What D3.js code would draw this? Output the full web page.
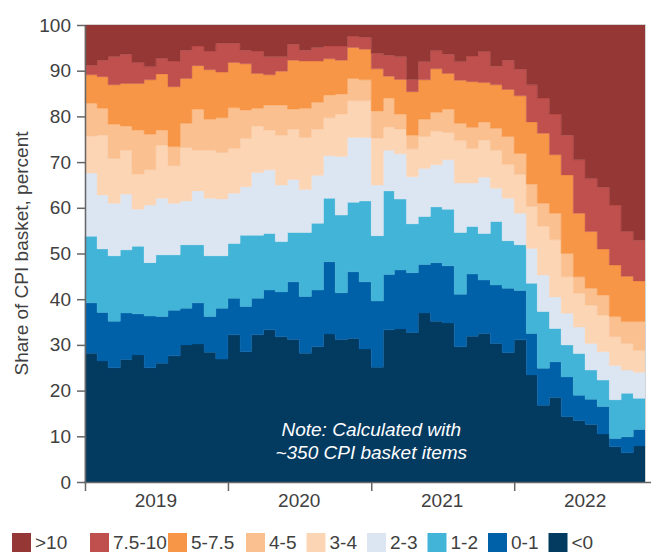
<!DOCTYPE html>
<html>
<head>
<meta charset="utf-8">
<script src="https://cdn.jsdelivr.net/npm/d3@7"></script>
<style>
  body { margin: 0; background: #fff; }
  svg { display: block; font-family: "Liberation Sans", Arial, sans-serif; }
</style>
</head>
<body>
<svg id="chart" width="654" height="554"></svg>
<script>
// buckets of annual inflation, bottom of the stack first
const buckets = ["<0", "0-1", "1-2", "2-3", "3-4", "4-5", "5-7.5", "7.5-10", ">10"];
const colors = ["#033a60", "#0061a8", "#42b4d7", "#dce6f2", "#fcd5b5", "#fac090", "#f79646", "#c0504d", "#953735"];
const years = ["2019", "2020", "2021", "2022"];

// months Jan 2019 .. Nov 2022
const months = d3.timeMonth.range(new Date(2019, 0, 1), new Date(2022, 11, 1));

// cumulative share (top edge of each band)
const topLt0 = [28.2,26.5,25.0,26.8,27.8,25.0,26.0,27.6,30.0,30.2, 28.4,26.9,32.2,28.5,32.2,33.3,31.8,31.2,28.2,29.6,
  32.4,31.2,31.4,29.1,25.1,33.3,33.5,32.7,37.0,35.2, 34.8,29.6,31.9,32.5,30.3,28.3,31.1,23.4,16.8,18.5, 14.3,13.4,12.6,10.5,7.7,6.4,7.9];
const top0to1 = [39.2,37.1,35.2,37.0,36.8,36.3,36.2,37.6,38.0,39.2, 36.2,38.0,40.2,38.4,40.2,42.0,41.6,43.8,40.6,42.0,
  48.2,41.4,46.0,43.8,39.6,45.4,46.4,45.8,47.6,48.0, 47.3,41.1,45.5,44.2,43.1,42.4,41.9,32.5,24.9,26.3, 23.0,19.0,18.1,16.5,9.5,9.9,11.5];
const top1to2 = [53.8,51.0,49.5,50.8,51.6,48.0,49.7,49.7,51.9,51.9, 49.5,49.5,52.2,54.0,54.0,54.4,52.6,54.6,54.6,56.6,
  62.1,58.4,61.2,61.5,53.9,63.7,61.9,56.5,58.1,60.2, 59.7,54.6,55.9,54.4,57.0,52.8,51.9,43.5,37.3,33.6, 30.0,28.1,24.5,22.3,18.0,19.4,18.3];
const top2to3 = [67.6,62.8,61.0,63.0,59.7,60.6,62.1,61.0,61.5,63.7, 62.1,61.9,63.2,64.6,67.7,68.3,65.0,66.2,64.0,67.1,
  71.4,71.2,75.4,75.4,65.0,72.6,71.8,66.8,68.6,69.4, 70.5,65.4,65.4,66.7,64.3,62.1,58.8,51.1,45.3,40.5, 36.9,33.9,30.3,28.5,25.5,24.5,24.0];
const top3to4 = [75.7,75.9,70.8,72.6,67.4,68.3,73.7,69.2,73.2,72.6, 72.6,72.1,73.0,75.2,77.9,77.0,75.9,77.2,75.4,77.2,
  79.7,80.5,83.4,83.4,75.3,77.7,77.2,72.9,75.6,76.8, 76.5,74.7,73.0,74.8,72.6,69.5,67.3,60.3,56.0,53.0, 44.9,41.3,38.7,36.5,31.8,30.3,28.8];
const top4to5 = [82.9,81.8,78.3,77.9,77.0,76.1,77.0,73.4,78.5,81.6, 79.4,79.7,81.9,81.4,81.8,82.5,82.5,81.6,81.8,83.1,
  84.7,84.9,88.3,88.0,81.2,84.0,80.5,75.9,79.4,80.9, 81.6,78.5,77.6,78.8,77.4,75.6,71.9,65.2,61.0,58.8, 50.0,44.9,42.4,40.9,36.2,35.1,35.1];
const top5to75 = [89.1,88.7,86.9,87.2,87.2,88.0,89.3,86.5,88.3,91.1, 90.2,89.7,91.8,91.5,89.4,89.1,89.9,92.3,92.1,92.1,
  92.6,92.3,95.1,94.7,90.4,88.8,88.1,85.4,88.0,90.4, 89.4,87.9,87.6,87.4,86.9,85.9,84.5,78.8,76.3,71.6, 67.2,58.8,54.8,51.0,47.5,45.0,44.0];
const top75to10 = [91.2,92.3,93.1,93.6,91.8,90.9,92.7,92.1,94.5,95.4, 94.3,96.0,96.0,94.5,94.3,93.1,93.1,95.8,94.5,95.1,
  95.4,95.4,97.6,97.3,93.8,93.4,93.1,88.1,92.0,94.4, 93.6,92.0,93.2,94.2,91.0,92.3,90.3,86.9,84.0,80.5, 75.9,70.5,66.4,64.5,60.6,54.8,52.9];

const tops = [topLt0, top0to1, top1to2, top2to3, top3to4, top4to5, top5to75, top75to10, months.map(() => 100)];

// shares per bucket from the cumulative edges
const rows = months.map((m, i) => {
  const r = { date: m };
  buckets.forEach((b, j) => { r[b] = tops[j][i] - (j ? tops[j - 1][i] : 0); });
  return r;
});
// closing point so the last month gets its full step
rows.push(Object.assign({}, rows[rows.length - 1], { date: d3.timeMonth.offset(months[months.length - 1], 1) }));

const margin = { top: 25, right: 9, bottom: 72, left: 85 };
const width = 654 - margin.left - margin.right;
const height = 554 - margin.top - margin.bottom;

const svg = d3.select("#chart");
const g = svg.append("g").attr("transform", `translate(${margin.left},${margin.top})`);

const x = d3.scaleTime()
  .domain([months[0], rows[rows.length - 1].date])
  .range([0, width]);
const y = d3.scaleLinear().domain([0, 100]).range([height, 0]);

const series = d3.stack().keys(buckets)(rows);

const area = d3.area()
  .curve(d3.curveStepAfter)
  .x(d => x(d.data.date))
  .y0(d => y(d[0]))
  .y1(d => y(d[1]));

g.selectAll("path.layer")
  .data(series)
  .enter()
  .append("path")
  .attr("class", "layer")
  .attr("fill", (d, i) => colors[i])
  .attr("stroke", (d, i) => colors[i])
  .attr("stroke-width", 0.4)
  .attr("d", area);

// light frame top and right
g.append("path")
  .attr("d", `M0,-0.5H${width + 0.5}V${height}`)
  .attr("fill", "none")
  .attr("stroke", "#d4d4d4")
  .attr("stroke-width", 1);

// y axis
const yAxis = g.append("g")
  .call(d3.axisLeft(y).tickValues(d3.range(0, 101, 10)).tickSize(8).tickPadding(6).tickSizeOuter(0));
yAxis.select(".domain").attr("stroke", "#666").attr("stroke-width", 1.5);
yAxis.selectAll(".tick line").attr("stroke", "#666").attr("stroke-width", 1.5);
yAxis.selectAll("text").attr("fill", "#404040").style("font-size", "19px");

// x axis: ticks at year starts, labels mid-year
const yearStarts = years.map(yr => new Date(+yr, 0, 1));
const xAxis = g.append("g")
  .attr("transform", `translate(0,${height})`)
  .call(d3.axisBottom(x).tickValues(yearStarts).tickSize(9).tickFormat("").tickSizeOuter(0));
xAxis.select(".domain").attr("stroke", "#666").attr("stroke-width", 1.5).attr("d", `M-1,0.5H${width + 6}`);
xAxis.selectAll(".tick line").attr("stroke", "#666").attr("stroke-width", 1.5);

g.selectAll("text.year")
  .data(years)
  .enter()
  .append("text")
  .attr("class", "year")
  .attr("x", d => x(new Date(+d, 6, 1)))
  .attr("y", height + 25)
  .attr("text-anchor", "middle")
  .attr("fill", "#404040")
  .style("font-size", "19px")
  .text(d => d);

// y label
svg.append("text")
  .attr("transform", `translate(28,${margin.top + height / 2}) rotate(-90)`)
  .attr("text-anchor", "middle")
  .attr("fill", "#404040")
  .style("font-size", "19px")
  .text("Share of CPI basket, percent");

// note
const noteX = x(new Date(2021, 0, 1));
const note = g.append("text")
  .attr("x", noteX)
  .attr("y", height - 46)
  .attr("text-anchor", "middle")
  .attr("fill", "#fff")
  .style("font-size", "19px")
  .style("font-style", "italic");
note.append("tspan").text("Note: Calculated with");
note.append("tspan").attr("x", noteX).attr("dy", 23).text("~350 CPI basket items");

// legend, top bucket first; long labels get a wider slot
const legend = svg.append("g").attr("transform", "translate(12,533)");
let lx = 0;
buckets.slice().reverse().forEach((b, k) => {
  const item = legend.append("g").attr("transform", `translate(${lx},0)`);
  item.append("rect").attr("width", 19).attr("height", 19).attr("fill", colors[buckets.length - 1 - k]);
  item.append("text")
    .attr("x", 23)
    .attr("y", 16)
    .attr("fill", "#404040")
    .style("font-size", "19px")
    .text(b);
  lx += k < 3 ? 78 : 60.5;
});
</script>
</body>
</html>
